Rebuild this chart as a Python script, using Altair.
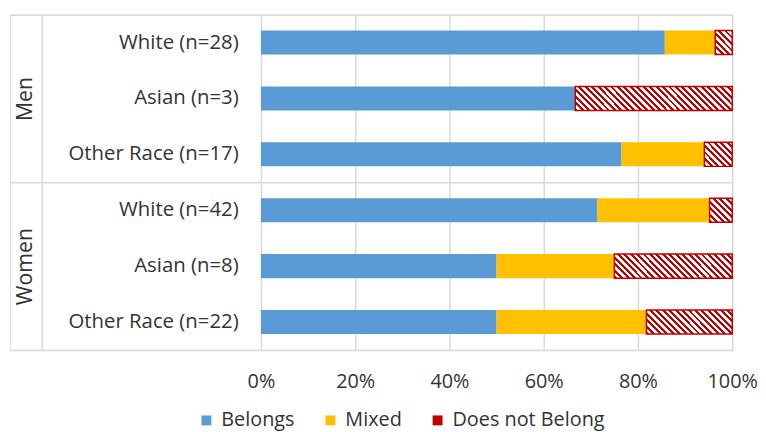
import altair as alt
import pandas as pd

groups = ["Men", "Men", "Men", "Women", "Women", "Women"]
races = ["White (n=28)", "Asian (n=3)", "Other Race (n=17)",
         "White (n=42)", "Asian (n=8)", "Other Race (n=22)"]
belongs = [85.7, 66.7, 76.5, 71.4, 50.0, 50.0]
mixed = [10.7, 0.0, 17.6, 23.8, 25.0, 31.8]
not_belong = [3.6, 33.3, 5.9, 4.8, 25.0, 18.2]
categories = ["Belongs", "Mixed", "Does not Belong"]
group_names = ["Men", "Women"]
tick_values = [0, 0.2, 0.4, 0.6, 0.8, 1.0]

BLUE = "#5B9BD5"
YELLOW = "#FFC000"
RED = "#C00000"
GRID = "#d9d9d9"
TXT = "#333333"
FONT = "Open Sans"
FS = 20

PLOT_W = 475          # width of the 0-100% region
LABEL_W = 253         # width of the label columns (inside the table frame)
GROUP_COL_W = 32      # width of the Men/Women column
TOTAL_H = 338
BAR_H = 24

XMIN = -LABEL_W / PLOT_W
XDIV = -(LABEL_W - GROUP_COL_W) / PLOT_W


def hatch(w, h, period=6.5, frac=0.45):
    r = h / w
    k = (1 + r) / (1 + r * r)
    total = w + h
    stops = []
    i = 0
    while i * period < total:
        s0 = i * period / total
        s1 = min((i * period + frac * period) / total, 1.0)
        s2 = min((i + 1) * period / total, 1.0)
        stops += [
            {"offset": s0, "color": RED},
            {"offset": s1, "color": RED},
            {"offset": s1, "color": "#ffffff"},
            {"offset": s2, "color": "#ffffff"},
        ]
        i += 1
    return {"gradient": "linear", "x1": 0, "y1": 1, "x2": k, "y2": 1 - k * r,
            "stops": stops}


rows = []
for g, rc, b, m, n in zip(groups, races, belongs, mixed, not_belong):
    for o, (c, v) in enumerate(zip(categories, [b, m, n])):
        rows.append({"group": g, "race": rc, "category": c, "value": v, "order": o})
df = pd.DataFrame(rows)

conds = []
for rc, b, m, n in zip(races, belongs, mixed, not_belong):
    w = n / (b + m + n) * PLOT_W
    conds.append({
        "test": f"datum.race === '{rc}' && datum.category === 'Does not Belong'",
        "value": hatch(w, BAR_H),
    })

bars = alt.Chart(df).mark_bar(strokeWidth=1.5).encode(
    x=alt.X("value:Q", stack="normalize",
            scale=alt.Scale(domain=[XMIN, 1], nice=False, zero=False),
            axis=alt.Axis(values=[XDIV] + tick_values,
                          labelExpr="datum.value < 0 ? '' : format(datum.value, '.0%')",
                          grid=True, gridColor=GRID, gridWidth=1.5,
                          domain=False, ticks=False, labelPadding=22,
                          labelFlush=False,
                          labelFontSize=FS, labelFont=FONT, labelColor=TXT,
                          title=None)),
    y=alt.Y("race:N", sort=races,
            scale=alt.Scale(paddingInner=0.57, paddingOuter=0.285),
            axis=alt.Axis(orient="left", offset=-230, domain=False, ticks=False,
                          labelPadding=0, labelFontSize=20.5, labelFont=FONT,
                          labelColor=TXT, labelLimit=400, grid=False, title=None)),
    fill=alt.Fill(
        "category:N",
        scale=alt.Scale(domain=categories, range=[BLUE, YELLOW, RED]),
        legend=alt.Legend(
            title=None, orient="none", legendX=188, legendY=399,
            direction="horizontal", symbolType="square", symbolSize=100,
            labelFontSize=FS, labelFont=FONT, labelColor=TXT,
            columnPadding=26, labelOffset=5, symbolStrokeWidth=0,
        ),
        condition=conds,
    ),
    stroke=alt.condition("datum.category === 'Does not Belong'",
                         alt.value(RED), alt.value("transparent")),
    order=alt.Order("order:Q"),
)

gdf = pd.DataFrame({"group": group_names})
group_layer = alt.Chart(gdf).mark_point(opacity=0, size=0).encode(
    y=alt.Y("group:N", sort=group_names,
            scale=alt.Scale(type="band", paddingInner=0, paddingOuter=0),
            axis=alt.Axis(orient="left", offset=-16, domain=False, ticks=False,
                          labelPadding=0, labelAngle=270, labelAlign="center",
                          labelBaseline="middle", labelFontSize=21.5,
                          labelFont=FONT, labelColor=TXT,
                          grid=True, gridColor=GRID, gridWidth=1.5,
                          tickBand="extent", title=None)),
)

chart = alt.layer(bars, group_layer).resolve_scale(y="independent").properties(
    width=LABEL_W + PLOT_W, height=TOTAL_H,
    padding={"left": 2, "top": 4, "right": 0, "bottom": 0},
).configure_view(
    stroke=GRID, strokeWidth=1.5
).configure(background="white")

chart.save("out.html", embed_options={"renderer": "svg", "actions": False})
